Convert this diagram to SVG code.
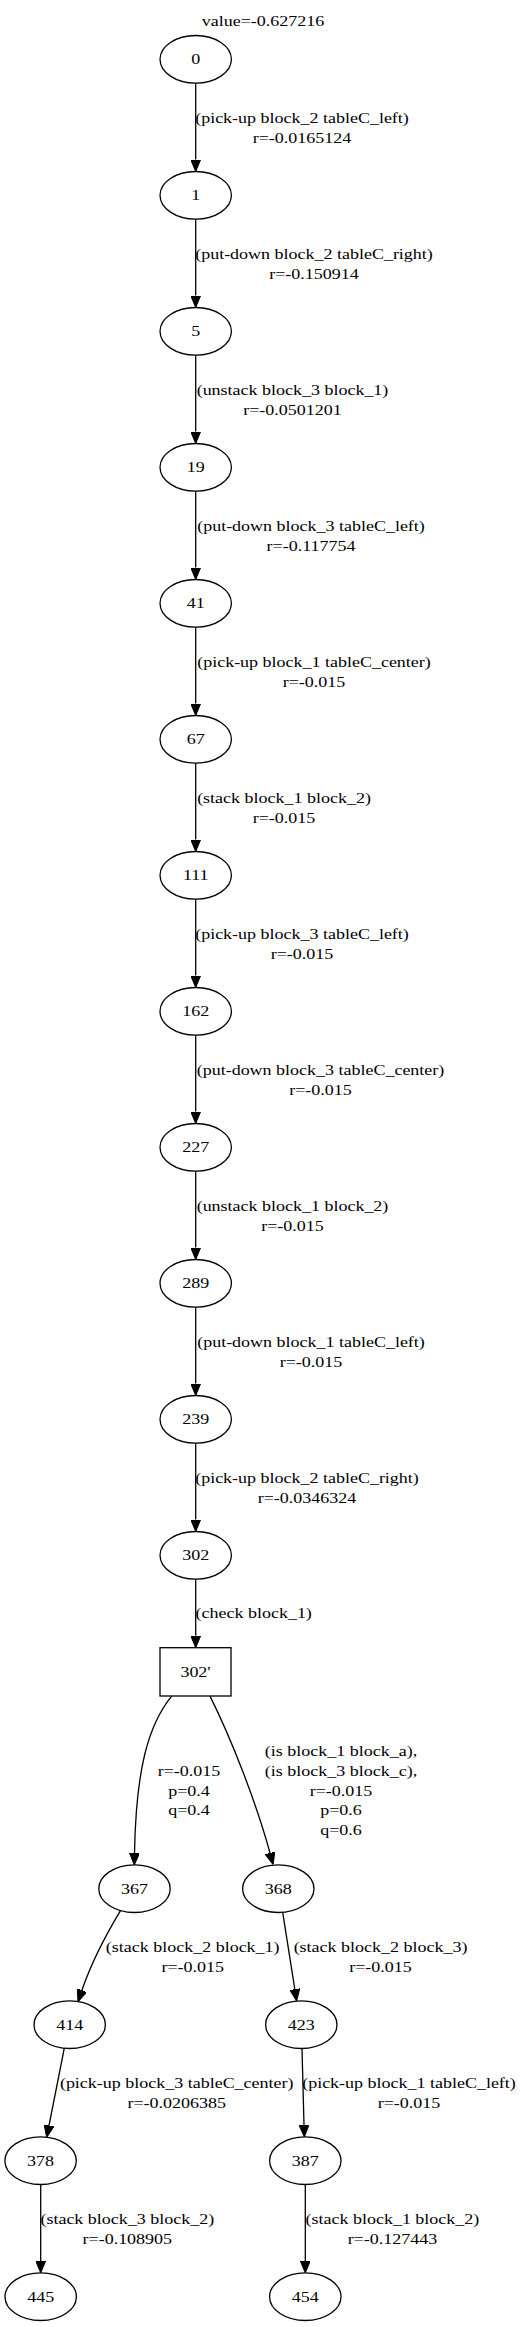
<svg xmlns="http://www.w3.org/2000/svg" width="527" height="2327" viewBox="0 0 527 2327">
<style>
.n{fill:#fff;stroke:#000;stroke-width:1.3}
.e{fill:none;stroke:#000;stroke-width:1.3}
.t{font-family:"Liberation Serif","Times New Roman",serif;font-size:15px;fill:#000;text-anchor:middle}
</style>
<defs>
<marker id="ah" viewBox="0 0 12 10" markerWidth="12" markerHeight="10" refX="0" refY="5" orient="auto" markerUnits="userSpaceOnUse">
<path d="M0,0 L12,5 L0,10 z" fill="#000" stroke="#000" stroke-width="1"/>
</marker>
</defs>
<rect width="527" height="2327" fill="#fff"/>
<text class="t" transform="translate(263,25.7) scale(1.2,1)">value=-0.627216</text>

<g id="edges">
<path class="e" marker-end="url(#ah)" d="M195.7,83.1 L195.7,159.5"/>
<path class="e" marker-end="url(#ah)" d="M195.7,219.1 L195.7,295.5"/>
<path class="e" marker-end="url(#ah)" d="M195.7,355.1 L195.7,431.5"/>
<path class="e" marker-end="url(#ah)" d="M195.7,491.1 L195.7,567.5"/>
<path class="e" marker-end="url(#ah)" d="M195.7,627.1 L195.7,703.5"/>
<path class="e" marker-end="url(#ah)" d="M195.7,763.1 L195.7,839.5"/>
<path class="e" marker-end="url(#ah)" d="M195.7,899.1 L195.7,975.5"/>
<path class="e" marker-end="url(#ah)" d="M195.7,1035.1 L195.7,1111.5"/>
<path class="e" marker-end="url(#ah)" d="M195.7,1171.1 L195.7,1247.5"/>
<path class="e" marker-end="url(#ah)" d="M195.7,1307.1 L195.7,1383.5"/>
<path class="e" marker-end="url(#ah)" d="M195.7,1443.1 L195.7,1519.5"/>
<path class="e" marker-end="url(#ah)" d="M195.7,1579.1 L195.7,1635.7"/>
<path class="e" marker-end="url(#ah)" d="M171.7,1696.1 C148,1725 136,1770 134.5,1852.9"/>
<path class="e" marker-end="url(#ah)" d="M210,1696.1 C232,1740 257,1805 270,1853"/>
<path class="e" marker-end="url(#ah)" d="M120.5,1910.6 C110,1928 94,1955 81.9,1990.3"/>
<path class="e" marker-end="url(#ah)" d="M282.7,1912.3 L294.8,1989.2"/>
<path class="e" marker-end="url(#ah)" d="M64.3,2048.2 L49,2125.5"/>
<path class="e" marker-end="url(#ah)" d="M302,2048.5 L304,2124.9"/>
<path class="e" marker-end="url(#ah)" d="M40.7,2184.5 L40.7,2260.9"/>
<path class="e" marker-end="url(#ah)" d="M305.3,2184.5 L305.3,2260.9"/>
</g>

<g id="edge-labels">
<text class="t" transform="translate(302,123.1) scale(1.2,1)"><tspan x="0" y="0">(pick-up block_2 tableC_left)</tspan><tspan x="0" y="19.5">r=-0.0165124</tspan></text>
<text class="t" transform="translate(314,259.1) scale(1.2,1)"><tspan x="0" y="0">(put-down block_2 tableC_right)</tspan><tspan x="0" y="19.5">r=-0.150914</tspan></text>
<text class="t" transform="translate(292.5,395.1) scale(1.2,1)"><tspan x="0" y="0">(unstack block_3 block_1)</tspan><tspan x="0" y="19.5">r=-0.0501201</tspan></text>
<text class="t" transform="translate(311,531.1) scale(1.2,1)"><tspan x="0" y="0">(put-down block_3 tableC_left)</tspan><tspan x="0" y="19.5">r=-0.117754</tspan></text>
<text class="t" transform="translate(314,667.1) scale(1.2,1)"><tspan x="0" y="0">(pick-up block_1 tableC_center)</tspan><tspan x="0" y="19.5">r=-0.015</tspan></text>
<text class="t" transform="translate(284,803.1) scale(1.2,1)"><tspan x="0" y="0">(stack block_1 block_2)</tspan><tspan x="0" y="19.5">r=-0.015</tspan></text>
<text class="t" transform="translate(302,939.1) scale(1.2,1)"><tspan x="0" y="0">(pick-up block_3 tableC_left)</tspan><tspan x="0" y="19.5">r=-0.015</tspan></text>
<text class="t" transform="translate(320.5,1075.1) scale(1.2,1)"><tspan x="0" y="0">(put-down block_3 tableC_center)</tspan><tspan x="0" y="19.5">r=-0.015</tspan></text>
<text class="t" transform="translate(292.5,1211.1) scale(1.2,1)"><tspan x="0" y="0">(unstack block_1 block_2)</tspan><tspan x="0" y="19.5">r=-0.015</tspan></text>
<text class="t" transform="translate(311,1347.1) scale(1.2,1)"><tspan x="0" y="0">(put-down block_1 tableC_left)</tspan><tspan x="0" y="19.5">r=-0.015</tspan></text>
<text class="t" transform="translate(307,1483.1) scale(1.2,1)"><tspan x="0" y="0">(pick-up block_2 tableC_right)</tspan><tspan x="0" y="19.5">r=-0.0346324</tspan></text>
<text class="t" transform="translate(253.7,1618.3) scale(1.2,1)">(check block_1)</text>
<text class="t" transform="translate(189,1776) scale(1.2,1)"><tspan x="0" y="0">r=-0.015</tspan><tspan x="0" y="19.6">p=0.4</tspan><tspan x="0" y="39.2">q=0.4</tspan></text>
<text class="t" transform="translate(341,1756.4) scale(1.2,1)"><tspan x="0" y="0">(is block_1 block_a),</tspan><tspan x="0" y="19.6">(is block_3 block_c),</tspan><tspan x="0" y="39.2">r=-0.015</tspan><tspan x="0" y="58.8">p=0.6</tspan><tspan x="0" y="78.4">q=0.6</tspan></text>
<text class="t" transform="translate(192.7,1952.2) scale(1.2,1)"><tspan x="0" y="0">(stack block_2 block_1)</tspan><tspan x="0" y="19.5">r=-0.015</tspan></text>
<text class="t" transform="translate(380.5,1952.2) scale(1.2,1)"><tspan x="0" y="0">(stack block_2 block_3)</tspan><tspan x="0" y="19.5">r=-0.015</tspan></text>
<text class="t" transform="translate(176.7,2088.2) scale(1.2,1)"><tspan x="0" y="0">(pick-up block_3 tableC_center)</tspan><tspan x="0" y="19.5">r=-0.0206385</tspan></text>
<text class="t" transform="translate(409,2088.2) scale(1.2,1)"><tspan x="0" y="0">(pick-up block_1 tableC_left)</tspan><tspan x="0" y="19.5">r=-0.015</tspan></text>
<text class="t" transform="translate(127.3,2224.2) scale(1.2,1)"><tspan x="0" y="0">(stack block_3 block_2)</tspan><tspan x="0" y="19.5">r=-0.108905</tspan></text>
<text class="t" transform="translate(392.4,2224.2) scale(1.2,1)"><tspan x="0" y="0">(stack block_1 block_2)</tspan><tspan x="0" y="19.5">r=-0.127443</tspan></text>
</g>

<g id="node-0"><ellipse class="n" cx="195.7" cy="59.3" rx="35.7" ry="23.8"/><text class="t" transform="translate(195.7,64.3) scale(1.2,1)">0</text></g>
<g id="node-1"><ellipse class="n" cx="195.7" cy="195.3" rx="35.7" ry="23.8"/><text class="t" transform="translate(195.7,200.3) scale(1.2,1)">1</text></g>
<g id="node-5"><ellipse class="n" cx="195.7" cy="331.3" rx="35.7" ry="23.8"/><text class="t" transform="translate(195.7,336.3) scale(1.2,1)">5</text></g>
<g id="node-19"><ellipse class="n" cx="195.7" cy="467.3" rx="35.7" ry="23.8"/><text class="t" transform="translate(195.7,472.3) scale(1.2,1)">19</text></g>
<g id="node-41"><ellipse class="n" cx="195.7" cy="603.3" rx="35.7" ry="23.8"/><text class="t" transform="translate(195.7,608.3) scale(1.2,1)">41</text></g>
<g id="node-67"><ellipse class="n" cx="195.7" cy="739.3" rx="35.7" ry="23.8"/><text class="t" transform="translate(195.7,744.3) scale(1.2,1)">67</text></g>
<g id="node-111"><ellipse class="n" cx="195.7" cy="875.3" rx="35.7" ry="23.8"/><text class="t" transform="translate(195.7,880.3) scale(1.2,1)">111</text></g>
<g id="node-162"><ellipse class="n" cx="195.7" cy="1011.3" rx="35.7" ry="23.8"/><text class="t" transform="translate(195.7,1016.3) scale(1.2,1)">162</text></g>
<g id="node-227"><ellipse class="n" cx="195.7" cy="1147.3" rx="35.7" ry="23.8"/><text class="t" transform="translate(195.7,1152.3) scale(1.2,1)">227</text></g>
<g id="node-289"><ellipse class="n" cx="195.7" cy="1283.3" rx="35.7" ry="23.8"/><text class="t" transform="translate(195.7,1288.3) scale(1.2,1)">289</text></g>
<g id="node-239"><ellipse class="n" cx="195.7" cy="1419.3" rx="35.7" ry="23.8"/><text class="t" transform="translate(195.7,1424.3) scale(1.2,1)">239</text></g>
<g id="node-302"><ellipse class="n" cx="195.7" cy="1555.3" rx="35.7" ry="23.8"/><text class="t" transform="translate(195.7,1560.3) scale(1.2,1)">302</text></g>
<g id="node-302p"><rect class="n" x="160" y="1647.7" width="71" height="48.3"/><text class="t" transform="translate(195.5,1676.8) scale(1.2,1)">302'</text></g>
<g id="node-367"><ellipse class="n" cx="134.5" cy="1888.7" rx="35.7" ry="23.8"/><text class="t" transform="translate(134.5,1893.7) scale(1.2,1)">367</text></g>
<g id="node-368"><ellipse class="n" cx="278.3" cy="1888.7" rx="35.7" ry="23.8"/><text class="t" transform="translate(278.3,1893.7) scale(1.2,1)">368</text></g>
<g id="node-414"><ellipse class="n" cx="69.7" cy="2024.7" rx="35.7" ry="23.8"/><text class="t" transform="translate(69.7,2029.7) scale(1.2,1)">414</text></g>
<g id="node-423"><ellipse class="n" cx="301.3" cy="2024.7" rx="35.7" ry="23.8"/><text class="t" transform="translate(301.3,2029.7) scale(1.2,1)">423</text></g>
<g id="node-378"><ellipse class="n" cx="40.6" cy="2160.7" rx="35.7" ry="23.8"/><text class="t" transform="translate(40.6,2165.7) scale(1.2,1)">378</text></g>
<g id="node-387"><ellipse class="n" cx="305.3" cy="2160.7" rx="35.7" ry="23.8"/><text class="t" transform="translate(305.3,2165.7) scale(1.2,1)">387</text></g>
<g id="node-445"><ellipse class="n" cx="40.7" cy="2296.7" rx="35.7" ry="23.8"/><text class="t" transform="translate(40.7,2301.7) scale(1.2,1)">445</text></g>
<g id="node-454"><ellipse class="n" cx="305.3" cy="2296.7" rx="35.7" ry="23.8"/><text class="t" transform="translate(305.3,2301.7) scale(1.2,1)">454</text></g>
</svg>
